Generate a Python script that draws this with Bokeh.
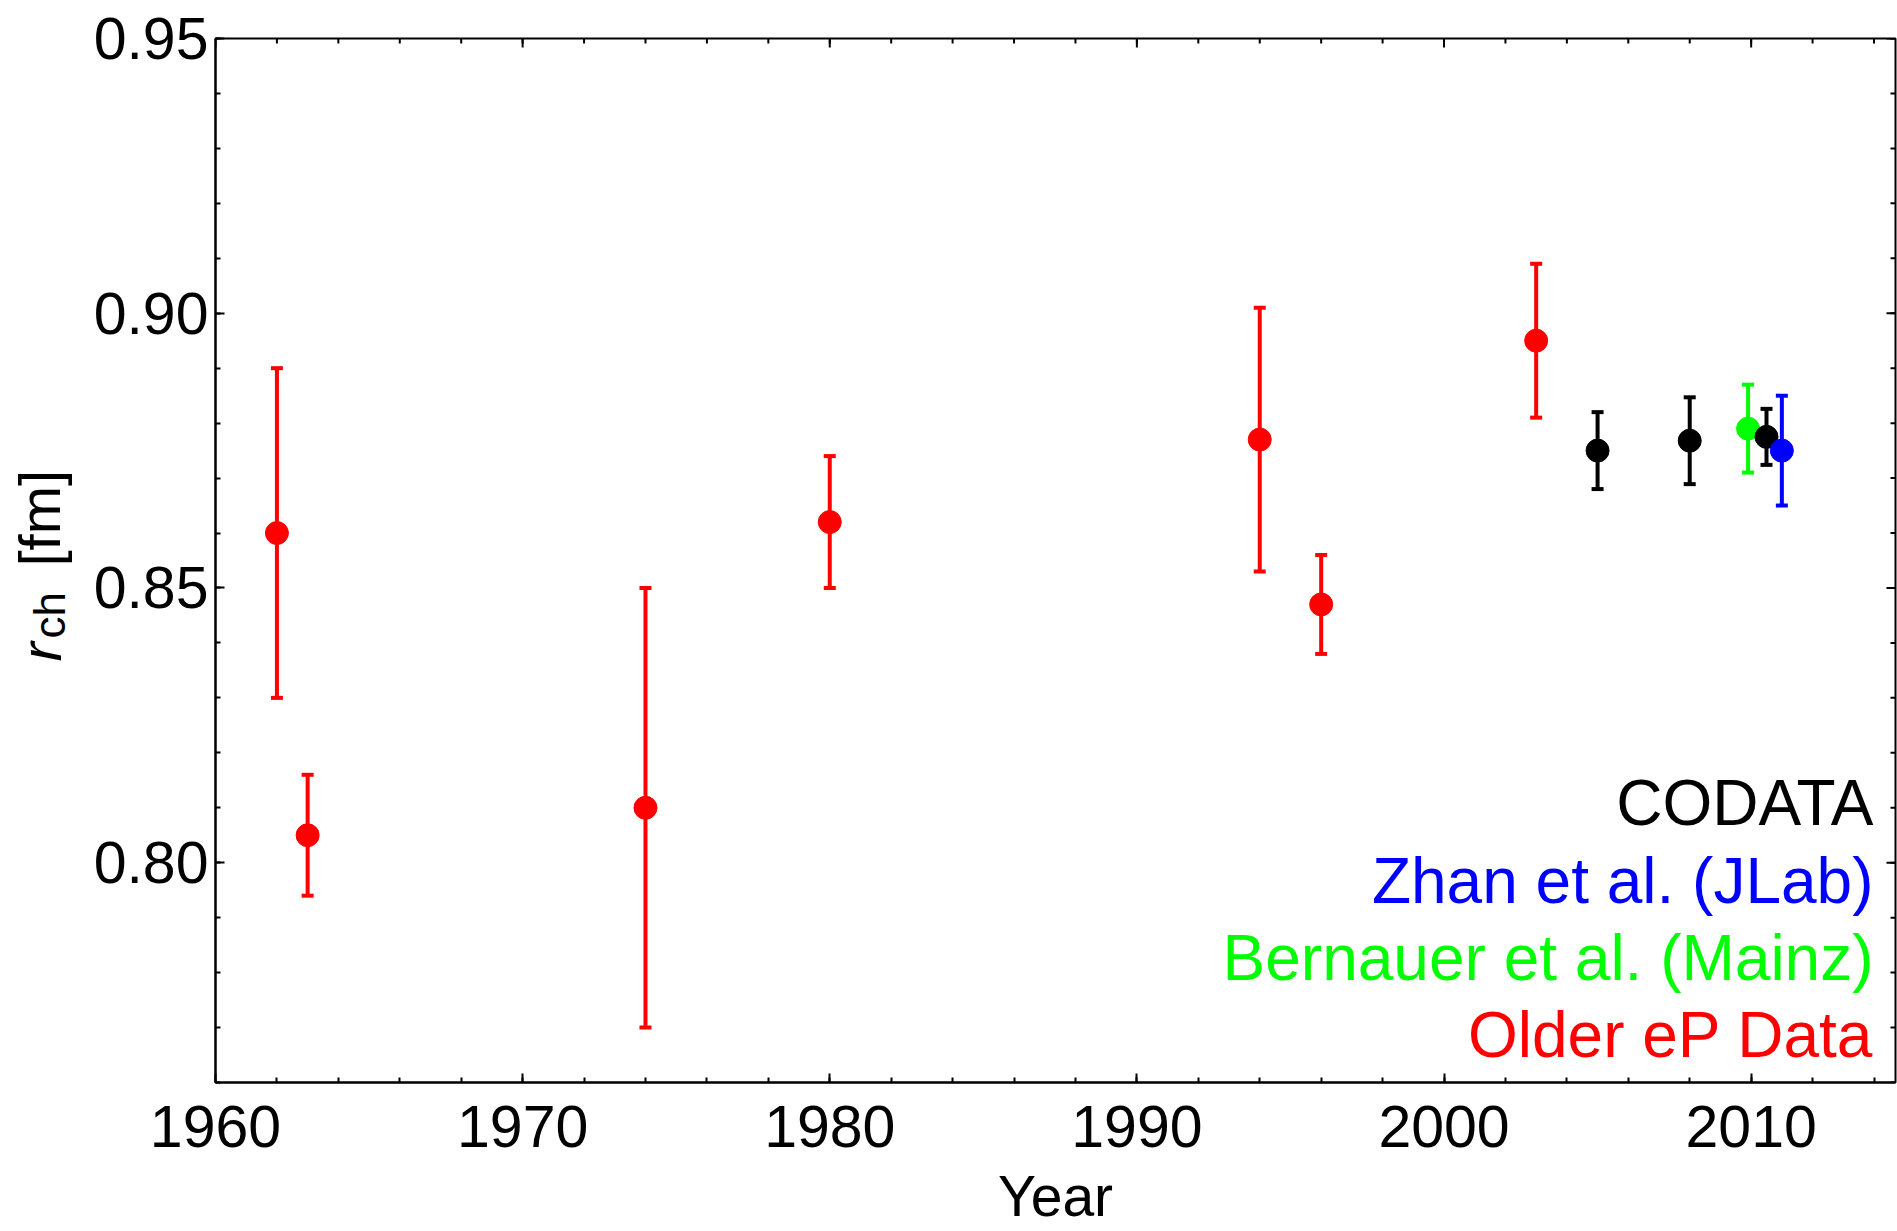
import math
from bokeh.plotting import figure
from bokeh.layouts import row
from bokeh.models import (ColumnDataSource, Whisker, TeeHead, Label,
                          FixedTicker, NumeralTickFormatter, Range1d)
from bokeh.embed import file_html
from bokeh.resources import INLINE

# ---------------- data ----------------
older_year = [1962, 1963, 1974, 1980, 1994, 1996, 2003]
older_r = [0.860, 0.805, 0.810, 0.862, 0.877, 0.847, 0.895]
older_err = [0.030, 0.011, 0.040, 0.012, 0.024, 0.009, 0.014]

mainz_year = [2009.9]
mainz_r = [0.879]
mainz_err = [0.008]

codata_year = [2005.0, 2008.0, 2010.5]
codata_r = [0.8750, 0.8768, 0.8775]
codata_err = [0.0070, 0.0079, 0.0051]

jlab_year = [2011.0]
jlab_r = [0.875]
jlab_err = [0.010]

legend_labels = ["CODATA", "Zhan et al. (JLab)", "Bernauer et al. (Mainz)", "Older eP Data"]
legend_colors = ["#000000", "#0000ff", "#00ff00", "#ff0000"]

x_major_ticks = [1960, 1970, 1980, 1990, 2000, 2010]
x_minor_ticks = list(range(1962, 2015, 2))
y_major_ticks = [0.80, 0.85, 0.90, 0.95]
y_minor_ticks = [round(0.76 + 0.01 * i, 2) for i in range(20)]

X0, X1 = 1960, 2014.7
Y0, Y1 = 0.76, 0.95

FONT = "Liberation Sans"

# ---------------- geometry (canvas pixels) ----------------
W, H = 1897, 1231
LEFT_W = 80                     # strip holding the y-axis title
MAIN_W = W - LEFT_W
FL, FR, FT, FB = 215, 1895, 38, 1082

p = figure(width=MAIN_W, height=H, x_range=Range1d(X0, X1), y_range=Range1d(Y0, Y1),
           output_backend="svg", toolbar_location=None,
           min_border_left=FL - LEFT_W, min_border_right=W - FR, min_border_top=FT,
           min_border_bottom=H - FB)
p.xgrid.visible = False
p.ygrid.visible = False
p.outline_line_color = "black"
p.outline_line_width = 2
p.background_fill_color = "white"
p.border_fill_color = "white"


def style_axis(ax):
    ax.axis_line_width = 2
    ax.axis_line_color = "black"
    ax.major_tick_line_width = 2
    ax.minor_tick_line_width = 2
    ax.major_tick_in = 9
    ax.major_tick_out = 0
    ax.minor_tick_in = 5
    ax.minor_tick_out = 0
    ax.major_label_text_font = FONT
    ax.major_label_text_color = "black"
    ax.major_label_text_font_size = "59px"


xa = p.xaxis[0]
xa.ticker = FixedTicker(ticks=x_major_ticks, minor_ticks=x_minor_ticks)
xa.formatter = NumeralTickFormatter(format="0")
style_axis(xa)
xa.major_label_standoff = 23
xa.axis_label = "Year"
xa.axis_label_text_font = FONT
xa.axis_label_text_font_size = "57px"
xa.axis_label_text_font_style = "normal"
xa.axis_label_text_color = "black"
xa.axis_label_standoff = 14

ya = p.yaxis[0]
ya.ticker = FixedTicker(ticks=y_major_ticks, minor_ticks=y_minor_ticks)
ya.formatter = NumeralTickFormatter(format="0.00")
style_axis(ya)
ya.major_label_standoff = 7

# mirrored inward ticks on top and right frame edges (half of each dash is clipped)
top_src = ColumnDataSource(dict(x=x_major_ticks, y=[Y1] * len(x_major_ticks)))
top_min = ColumnDataSource(dict(x=x_minor_ticks, y=[Y1] * len(x_minor_ticks)))
right_src = ColumnDataSource(dict(x=[X1] * len(y_major_ticks), y=y_major_ticks))
right_min = ColumnDataSource(dict(x=[X1] * len(y_minor_ticks), y=y_minor_ticks))
p.scatter("x", "y", source=top_src, marker="dash", size=18, angle=math.pi / 2,
          line_color="black", line_width=2)
p.scatter("x", "y", source=top_min, marker="dash", size=10, angle=math.pi / 2,
          line_color="black", line_width=2)
p.scatter("x", "y", source=right_src, marker="dash", size=18,
          line_color="black", line_width=2)
p.scatter("x", "y", source=right_min, marker="dash", size=10,
          line_color="black", line_width=2)


def series(xs, ys, es, color):
    src = ColumnDataSource(dict(x=xs, y=ys,
                                lo=[a - b for a, b in zip(ys, es)],
                                hi=[a + b for a, b in zip(ys, es)]))
    w = Whisker(base="x", lower="lo", upper="hi", source=src, dimension="height",
                line_color=color, line_width=4,
                upper_head=TeeHead(size=12, line_width=4, line_color=color),
                lower_head=TeeHead(size=12, line_width=4, line_color=color))
    p.add_layout(w)
    p.scatter("x", "y", source=src, size=23, fill_color=color, line_color=color)


series(older_year, older_r, older_err, "#ff0000")
series(mainz_year, mainz_r, mainz_err, "#00ff00")
series(codata_year, codata_r, codata_err, "#000000")
series(jlab_year, jlab_r, jlab_err, "#0000ff")


def dx(px):
    return X0 + (px - FL) / (FR - FL) * (X1 - X0)


def dy(py):
    return Y1 - (py - FT) / (FB - FT) * (Y1 - Y0)


# legend texts (inside the frame)
leg_center = [802, 880, 957, 1034]
for t, c, b in zip(legend_labels, legend_colors, leg_center):
    p.add_layout(Label(x=dx(1873), y=dy(b), text=t, text_font=FONT,
                       text_font_size="64px", text_color=c,
                       text_align="right", text_baseline="middle"))

# left strip holding the rotated y-axis title r_ch [fm]
# its frame is aligned with the main frame vertically, so data y = canvas y
left = figure(width=LEFT_W, height=H, x_range=Range1d(0, LEFT_W), y_range=Range1d(FB, FT),
              output_backend="svg", toolbar_location=None,
              x_axis_location=None, y_axis_location=None, min_border=0)
left.xgrid.visible = False
left.ygrid.visible = False
left.outline_line_color = None
left.background_fill_color = "white"
left.border_fill_color = "white"


def vlab(cx, y_start, text, size, style="normal"):
    left.add_layout(Label(x=cx, y=y_start, text=text, text_font=FONT,
                          text_font_size=f"{size}px", text_color="black",
                          text_align="left", text_baseline="middle",
                          angle=math.pi / 2, text_font_style=style))


vlab(40, 661, "r", 58, style="italic")
vlab(49, 638, "ch", 44)
vlab(39, 566, "[fm]", 58)

layout = row(left, p)
open("out.html", "w").write(file_html(layout, INLINE))
